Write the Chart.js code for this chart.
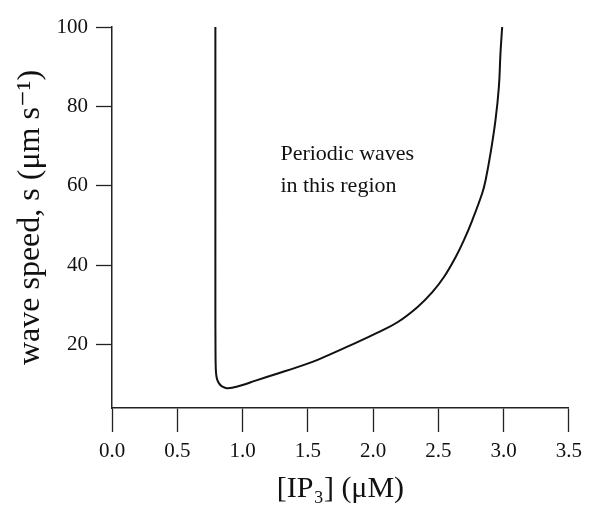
<!DOCTYPE html>
<html>
<head>
<meta charset="utf-8">
<script src="https://cdn.jsdelivr.net/npm/chart.js@4"></script>
<style>
  html, body { margin: 0; padding: 0; background: #fff; }
  #wrap { width: 589px; height: 513px; }
</style>
</head>
<body>
<div id="wrap"><canvas id="myChart"></canvas></div>
<script>
// curve: [IP3] (uM) vs wave speed (um/s)
const ip3 = [0.792, 0.792, 0.792, 0.793, 0.795, 0.80, 0.81, 0.83, 0.85, 0.88, 0.92, 1.0, 1.1, 1.27, 1.42, 1.58, 1.88, 2.034, 2.187, 2.339, 2.454, 2.543, 2.632, 2.696, 2.76, 2.836, 2.862, 2.90, 2.938, 2.964, 2.976, 2.989];
const speed = [100, 60, 30, 18, 14, 12, 10.8, 9.8, 9.3, 9.0, 9.1, 9.8, 10.9, 12.7, 14.3, 16.2, 20.6, 23.0, 25.6, 29.4, 33.2, 37.0, 42.0, 46.3, 51.3, 58.1, 61.4, 68.2, 76.6, 85.0, 93.4, 100];

const xTicks = [0, 0.5, 1.0, 1.5, 2.0, 2.5, 3.0, 3.5];
const yTicks = [20, 40, 60, 80, 100];
const regionLabel = ["Periodic waves", "in this region"];
const xTitle = "[IP\u2083] (\u03BCM)";
const yTitle = "wave speed, s (\u03BCm s\u207B\u00B9)";

const serif = "'Liberation Serif', 'DejaVu Serif', serif";

// text inside the plot, placed in data coordinates
const regionText = {
  id: "regionText",
  afterDatasetsDraw(chart) {
    const ctx = chart.ctx;
    const x = chart.scales.x.getPixelForValue(1.29);
    const y = chart.scales.y.getPixelForValue(66.5);
    ctx.save();
    ctx.fillStyle = "#111";
    ctx.font = "22px " + serif;
    ctx.textBaseline = "alphabetic";
    regionLabel.forEach((line, i) => ctx.fillText(line, x, y + i * 32));
    ctx.restore();
  },
};

const points = ip3.map((v, i) => ({ x: v, y: speed[i] }));

const ctx = document.getElementById("myChart").getContext("2d");
new Chart(ctx, {
  type: "scatter",
  data: {
    datasets: [{
      data: points,
      showLine: true,
      borderColor: "#111",
      borderWidth: 2,
      pointRadius: 0,
      tension: 0.4,
      fill: false,
    }],
  },
  options: {
    responsive: true,
    maintainAspectRatio: false,
    animation: false,
    layout: { padding: { left: 0, right: 17, top: 27, bottom: 0 } },
    plugins: { legend: { display: false }, tooltip: { enabled: false } },
    scales: {
      x: {
        type: "linear",
        min: 0,
        max: 3.5,
        afterBuildTicks: (s) => { s.ticks = xTicks.map((v) => ({ value: v })); },
        afterFit: (s) => { s.height = 105; },
        border: { display: true, color: "#222", width: 1.5 },
        grid: { drawOnChartArea: false, color: "#222", tickLength: 24, tickWidth: 1.3 },
        ticks: {
          color: "#111",
          padding: 7,
          font: { family: serif, size: 21 },
          callback: (v) => Number(v).toFixed(1),
        },
        title: {
          display: true,
          text: xTitle,
          color: "#111",
          font: { family: serif, size: 30 },
          padding: { top: 0, bottom: 6 },
        },
      },
      y: {
        type: "linear",
        min: 4,
        max: 100,
        afterBuildTicks: (s) => { s.ticks = yTicks.map((v) => ({ value: v })); },
        afterFit: (s) => { s.width = 112; },
        border: { display: true, color: "#222", width: 1.5 },
        grid: { drawOnChartArea: false, color: "#222", tickLength: 16, tickWidth: 1.3 },
        ticks: {
          color: "#111",
          padding: 8,
          font: { family: serif, size: 21 },
        },
        title: {
          display: true,
          text: yTitle,
          color: "#111",
          font: { family: serif, size: 32 },
          padding: { top: 11, bottom: 0 },
        },
      },
    },
  },
  plugins: [regionText],
});
</script>
</body>
</html>
